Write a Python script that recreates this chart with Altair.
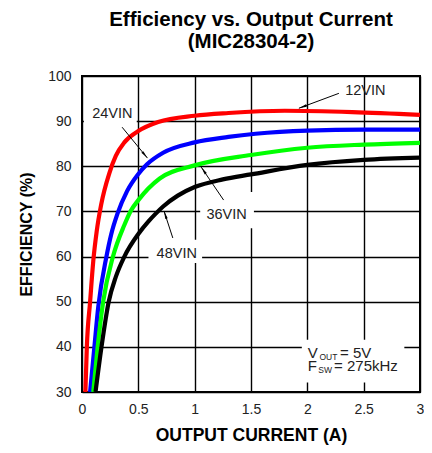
import altair as alt
import pandas as pd

# ---- data ----
current_12 = [0.03, 0.043, 0.072, 0.10, 0.13, 0.17, 0.243, 0.30, 0.376, 0.50, 0.676, 1.0, 1.3, 1.8, 2.4, 3.0]
eff_12 = [30, 40, 50, 59, 65.5, 71.5, 78.5, 82.3, 85.3, 87.8, 89.8, 91.2, 91.8, 92.3, 92.0, 91.4]

current_24 = [0.072, 0.11, 0.145, 0.217, 0.26, 0.315, 0.40, 0.50, 0.575, 0.72, 1.0, 1.3, 1.54, 2.0, 2.5, 3.0]
eff_24 = [30, 40, 49, 60, 65, 69.5, 74.5, 78.3, 80.4, 83.0, 85.3, 86.5, 87.2, 87.9, 88.1, 88.1]

current_36 = [0.10, 0.139, 0.188, 0.275, 0.376, 0.43, 0.50, 0.69, 1.0, 1.5, 2.0, 2.5, 3.0]
eff_36 = [30, 40, 50, 60, 67, 70, 72.5, 77.3, 80.2, 82.5, 84.1, 84.8, 85.2]

current_48 = [0.12, 0.173, 0.237, 0.30, 0.376, 0.50, 0.59, 0.65, 0.72, 0.85, 1.0, 1.25, 1.5, 2.0, 2.5, 3.0]
eff_48 = [30, 40, 50, 55.5, 60, 65, 67.8, 69.4, 71.1, 73.5, 75.4, 77.1, 78.2, 80.3, 81.4, 81.9]

series_names = ["12VIN", "24VIN", "36VIN", "48VIN"]
series_colors = ["#ff0000", "#0000ff", "#00ff00", "#000000"]

x_ticks = [0, 0.5, 1, 1.5, 2, 2.5, 3]
y_ticks = [30, 40, 50, 60, 70, 80, 90, 100]

# labels
label_text = ["12VIN", "24VIN", "36VIN", "48VIN"]
label_x = [2.515, 0.269, 1.283, 0.841]
label_y = [96.6, 91.5, 69.2, 60.6]

# arrows (start -> tip)
arrow_x = [2.280, 0.356, 1.257, 0.806]
arrow_y = [96.16, 88.66, 72.52, 64.12]
arrow_x2 = [1.925, 0.581, 1.058, 0.728]
arrow_y2 = [92.86, 81.81, 79.82, 70.09]
arrow_angle = [250, 140, 325, 342]

# white label boxes
box_x = [0.017, 1.049, 0.590, 1.951]
box_x2 = [0.486, 1.526, 1.066, 2.861]
box_y = [89.2, 66.3, 58.6, 32.1]
box_y2 = [93.7, 74.3, 63.7, 41.6]

# condition note text pieces
note_text = ["V", "OUT", "= 5V", "F", "SW", "= 275kHz"]
note_x = [2.003, 2.108, 2.290, 2.003, 2.097, 2.237]
note_y = [37.6, 37.1, 37.6, 34.6, 34.1, 34.6]
note_size = [15, 8.5, 15, 15, 8.5, 15]

rows = []
for name, xs, ys in [("12VIN", current_12, eff_12), ("24VIN", current_24, eff_24),
                     ("36VIN", current_36, eff_36), ("48VIN", current_48, eff_48)]:
    for i, (a, b) in enumerate(zip(xs, ys)):
        rows.append({"series": name, "x": a, "y": b, "order": i})
curves = pd.DataFrame(rows)

labels = pd.DataFrame({"text": label_text, "x": label_x, "y": label_y})
arrows = pd.DataFrame({"x": arrow_x, "y": arrow_y, "x2": arrow_x2, "y2": arrow_y2, "angle": arrow_angle})
boxes = pd.DataFrame({"x": box_x, "x2": box_x2, "y": box_y, "y2": box_y2})
notes = pd.DataFrame({"text": note_text, "x": note_x, "y": note_y, "size": note_size})

FONT = "Liberation Sans"

xscale = alt.Scale(domain=[0, 3], nice=False)
yscale = alt.Scale(domain=[30, 100], nice=False)

xaxis = alt.Axis(values=x_ticks, title="OUTPUT CURRENT (A)", grid=True, ticks=False, format="~g",
                 labelPadding=10, titlePadding=10, labelFlush=False, titleFontSize=17.5)
yaxis = alt.Axis(values=y_ticks, title="EFFICIENCY (%)", grid=True, ticks=False,
                 labelPadding=11, titlePadding=13, titleFontSize=16)


def X(field="x"):
    return alt.X(f"{field}:Q", scale=xscale, axis=xaxis)


def Y(field="y"):
    return alt.Y(f"{field}:Q", scale=yscale, axis=yaxis)


rects = alt.Chart(boxes).mark_rect(color="white").encode(x=X(), x2="x2", y=Y(), y2="y2")

lines = alt.Chart(curves).mark_line(strokeWidth=4.2, interpolate="monotone", clip=True).encode(
    x=X(), y=Y(),
    color=alt.Color("series:N", scale=alt.Scale(domain=series_names, range=series_colors), legend=None),
    order="order:Q",
)

arrow_lines = alt.Chart(arrows).mark_rule(color="black", strokeWidth=1).encode(
    x=X(), y=Y(), x2="x2", y2="y2"
)
arrow_heads = alt.Chart(arrows).mark_point(
    shape="M0,0L0.32,2L-0.32,2Z", filled=True, color="black", size=64, opacity=1
).encode(
    x=X("x2"), y=Y("y2"), angle=alt.Angle("angle:Q", scale=None)
)

label_marks = alt.Chart(labels).mark_text(font=FONT, fontSize=14.5, color="#222", baseline="middle", align="center").encode(
    x=X(), y=Y(), text="text:N"
)

note_marks = alt.Chart(notes).mark_text(font=FONT, color="#222", baseline="alphabetic", align="left").encode(
    x=X(), y=Y(), text="text:N", size=alt.Size("size:Q", scale=None)
)

chart = alt.layer(rects, lines, arrow_lines, arrow_heads, label_marks, note_marks).properties(
    width=338, height=316,
    title=alt.Title(["Efficiency vs. Output Current", "(MIC28304-2)"], font=FONT, fontSize=20.5,
                    fontWeight="bold", color="black", anchor="middle", offset=17, lineHeight=22),
    autosize=alt.AutoSizeParams(type="none"),
    padding={"left": 74, "top": 68, "right": 4, "bottom": 53},
).configure_view(stroke="black", strokeWidth=2).configure_axis(
    domain=False, gridColor="black", gridWidth=1.4, gridOpacity=1,
    labelFont=FONT, labelFontSize=14, labelColor="#222",
    titleFont=FONT, titleFontWeight="bold", titleColor="black",
)

chart.save("out.html", embed_options={"renderer": "svg", "actions": False})
